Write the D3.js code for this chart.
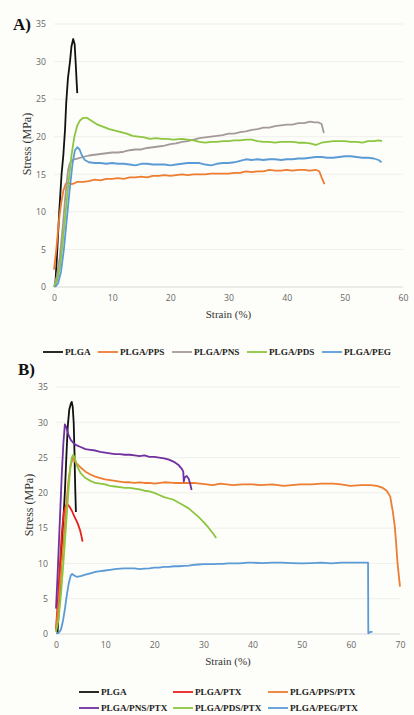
<!DOCTYPE html>
<html>
<head>
<meta charset="utf-8">
<script src="https://cdn.jsdelivr.net/npm/d3@7"></script>
<style>
  html, body { margin: 0; padding: 0; background: #fdfdf9; }
  svg { display: block; }
  .tick text { font-family: "Open Sans", sans-serif; font-size: 8.7px; fill: #666; }
  .serif { font-family: "Liberation Serif", "Times New Roman", serif; }
</style>
</head>
<body>
<div id="chart"></div>
<script>
// ---- panel A data : strain (%), stress (MPa) ----
const plgaA = [[0.2,0],[0.5,4],[0.9,10],[1.3,15],[1.6,17.5],[1.9,21],[2.1,24.5],[2.4,27.8],[2.75,30],[3.0,32],[3.3,33],[3.55,32.3],[3.75,29.5],[3.9,27.2],[4.0,25.8]];
const ppsA = [[0,2.3],[0.4,5],[0.8,8.5],[1.2,11],[1.6,12.8],[2.0,13.7],[2.4,13.9],[3,13.7],[3.5,13.8],[4,14.0],[5,14.0],[6,14.1],[7,14.3],[8,14.2],[9,14.4],[10,14.4],[11,14.5],[12,14.4],[13,14.6],[14,14.6],[15,14.7],[16,14.6],[17,14.8],[18,14.8],[19,14.9],[20,14.8],[21,14.9],[22,15.0],[23,14.9],[24,15.0],[25,15.0],[26,15.0],[27,15.1],[28,15.1],[29,15.1],[30,15.1],[31,15.2],[32,15.2],[33,15.4],[34,15.3],[35,15.4],[36,15.4],[37,15.6],[38,15.5],[39,15.5],[40,15.6],[41,15.5],[42,15.6],[43,15.6],[44,15.5],[45,15.6],[45.6,15.4],[46,14.6],[46.5,13.7]];
const pnsA = [[0,0],[0.5,1.5],[1,4],[1.5,8],[2,12.5],[2.4,15.5],[2.7,16.4],[3,16.8],[3.5,17.0],[4,17.1],[5,17.3],[6,17.5],[7,17.6],[8,17.7],[9,17.8],[10,17.9],[11,17.9],[12,18.0],[13,18.2],[14,18.3],[15,18.3],[16,18.5],[17,18.6],[18,18.7],[19,18.8],[20,19.0],[21,19.1],[22,19.3],[23,19.4],[24,19.6],[25,19.8],[26,19.9],[27,20.0],[28,20.1],[29,20.2],[30,20.4],[31,20.4],[32,20.6],[33,20.7],[34,20.9],[35,21.0],[36,21.2],[37,21.2],[38,21.4],[39,21.5],[40,21.6],[41,21.6],[42,21.8],[43,21.8],[44,22.0],[44.8,21.9],[45.5,21.9],[46,21.7],[46.4,20.5]];
const pdsA = [[0,0],[0.5,0.8],[1,2.5],[1.5,6],[2,10],[2.5,14],[3,17.5],[3.5,20],[4,21.5],[4.5,22.2],[5,22.5],[5.7,22.5],[6.5,22.1],[7.5,21.6],[8.5,21.3],[9.5,21.0],[10.5,20.8],[11.5,20.6],[12.5,20.4],[13.5,20.1],[14.5,20.0],[15.5,19.9],[16.5,19.7],[17.5,19.8],[18.5,19.7],[19.5,19.7],[20.5,19.6],[22,19.7],[23,19.6],[24,19.5],[25,19.3],[26,19.2],[27,19.3],[28,19.3],[29,19.4],[30,19.4],[31,19.5],[32,19.5],[33,19.6],[34,19.6],[35,19.4],[36,19.3],[37,19.3],[38,19.2],[39,19.3],[40,19.3],[41,19.3],[42,19.2],[43,19.2],[44,19.1],[45,18.9],[46,19.2],[47,19.3],[48,19.4],[49,19.4],[50,19.4],[51,19.3],[52,19.3],[53,19.2],[54,19.4],[55,19.4],[55.8,19.5],[56.4,19.4]];
const pegA = [[0.2,0],[0.7,0.5],[1.2,2],[1.7,5],[2.2,9],[2.7,13],[3.2,16.5],[3.6,18.2],[4.0,18.6],[4.4,18.3],[4.8,17.5],[5.3,16.9],[6,16.6],[7,16.5],[8,16.5],[9,16.4],[10,16.5],[11,16.4],[12,16.4],[13,16.3],[14,16.2],[15,16.4],[16,16.4],[17,16.3],[18,16.3],[19,16.3],[20,16.2],[21,16.3],[22,16.4],[23,16.5],[24,16.5],[25,16.5],[26,16.3],[27,16.2],[28,16.4],[29,16.5],[30,16.5],[31,16.6],[32,16.8],[33,17.0],[34,16.9],[35,17.0],[36,16.9],[37,17.0],[38,17.0],[39,16.9],[40,17.0],[41,17.0],[42,17.1],[43,17.1],[44,17.2],[45,17.3],[46,17.3],[47,17.2],[48,17.2],[49,17.3],[50,17.4],[51,17.4],[52,17.3],[53,17.2],[54,17.2],[55,17.1],[55.8,16.9],[56.3,16.6]];

// ---- panel B data ----
const plgaB = [[0.3,0],[0.7,5],[1.0,10],[1.4,15],[1.8,20],[2.1,25],[2.4,29.5],[2.7,31.8],[3.0,32.6],[3.2,32.9],[3.4,32.2],[3.6,30],[3.75,26],[3.9,21],[4.05,17.3]];
const ptxB = [[0,0.7],[0.4,5],[0.8,10],[1.2,14.5],[1.6,17.3],[2.0,18.2],[2.3,18.4],[2.7,18.1],[3.2,17.5],[3.7,16.7],[4.2,16.0],[4.5,15.5],[4.9,14.7],[5.2,13.8],[5.4,13.1]];
const ppsB = [[0,0.5],[0.5,4],[1,8.5],[1.5,13],[2,17.5],[2.5,21.5],[3,24],[3.5,25.0],[4,24.3],[5,23.6],[6,23.0],[7,22.6],[8,22.3],[9,22.1],[10,21.9],[11,21.8],[12,21.7],[13,21.6],[14,21.5],[15,21.5],[16,21.4],[17,21.5],[18,21.4],[19,21.4],[20,21.3],[22,21.5],[24,21.4],[26,21.4],[28,21.4],[29.3,21.3],[32,21.1],[33.4,21.3],[36,21.1],[38,21.2],[40,21.2],[41.6,21.1],[44,21.2],[46.3,21.0],[48,21.1],[49.7,21.2],[52,21.2],[54,21.3],[56.4,21.3],[58,21.2],[59.9,21.0],[62,21.1],[64,21.1],[65.3,21.0],[66.5,20.7],[67.3,20.3],[68.0,19.5],[68.5,17.5],[68.9,15.5],[69.2,13],[69.5,10],[70,6.7]];
const pnsB = [[0,3.6],[0.3,8],[0.6,13],[0.9,18],[1.2,23],[1.5,27],[1.8,29.7],[2.1,29.3],[2.5,28.3],[3,27.5],[3.5,27.1],[4,26.8],[5,26.5],[6,26.2],[7,26.1],[8,26.0],[9,25.8],[10,25.7],[11,25.6],[12,25.5],[13,25.5],[14,25.4],[15,25.4],[16,25.3],[17,25.2],[18,25.3],[19,25.1],[20,25.1],[21,25.0],[22,24.9],[23,24.7],[24,24.4],[25,23.9],[25.6,23.4],[25.9,23.0],[26.0,21.6],[26.2,22.2],[26.6,22.4],[27.0,22.0],[27.3,21.3],[27.6,20.4]];
const pdsB = [[0,0.3],[0.5,2],[1,5.5],[1.5,10],[2,15],[2.5,20],[2.9,23.5],[3.2,25],[3.5,25.4],[3.8,25.0],[4.3,23.8],[5,22.8],[6,22.1],[7,21.7],[8,21.4],[9,21.3],[10,21.2],[11,21.0],[12,20.9],[13,20.8],[14,20.7],[15,20.7],[16,20.6],[17,20.5],[18,20.3],[19,20.2],[20,20.0],[21,19.7],[22,19.4],[23,19.2],[24,19.0],[25,18.6],[26,18.2],[27,17.8],[28,17.2],[29,16.6],[30,15.9],[31,15.1],[32,14.2],[32.6,13.6]];
const pegB = [[0.2,0.1],[0.6,0.2],[1.0,0.6],[1.4,1.8],[1.8,3.5],[2.2,5.5],[2.6,7.2],[3.0,8.3],[3.3,8.5],[3.7,8.3],[4.2,8.1],[5,8.2],[6,8.4],[7,8.6],[8,8.8],[9,8.9],[10,9.0],[11,9.1],[12,9.2],[13,9.25],[14,9.3],[15,9.3],[16,9.3],[17,9.2],[18,9.25],[19,9.3],[20,9.4],[21,9.4],[22,9.5],[23,9.5],[24,9.6],[25,9.6],[26,9.65],[27,9.7],[28,9.8],[29,9.85],[30,9.9],[31,9.9],[32,9.9],[33,9.95],[34,9.95],[35,10.0],[36,10.0],[37,10.0],[38,10.05],[39,10.1],[40,10.1],[42,10.05],[44,10.1],[46,10.1],[48,10.05],[50,10.0],[52,10.05],[54,10.1],[56,10.0],[58,10.1],[60,10.1],[62,10.1],[63.5,10.1],[63.55,0.1],[64,0.3],[64.4,0.3]];

const namesA = ["PLGA", "PLGA/PPS", "PLGA/PNS", "PLGA/PDS", "PLGA/PEG"];
const namesB = ["PLGA", "PLGA/PTX", "PLGA/PPS/PTX", "PLGA/PNS/PTX", "PLGA/PDS/PTX", "PLGA/PEG/PTX"];
const stressTicks = [0, 5, 10, 15, 20, 25, 30, 35];
const strainTicksA = [0, 10, 20, 30, 40, 50, 60];
const strainTicksB = [0, 10, 20, 30, 40, 50, 60, 70];

const black = "#111", orange = "#ed7d31", gray = "#a59a9a", green = "#8cc63f", blue = "#5b9bd5", red = "#e8201e", purple = "#7030a0";

const svg = d3.select("#chart").append("svg")
  .attr("width", 414)
  .attr("height", 715);

function panel(opt) {
  const x = d3.scaleLinear().domain(opt.xDomain).range([opt.left, opt.right]);
  const y = d3.scaleLinear().domain([0, 35]).range([opt.bottom, opt.top]);
  const g = svg.append("g");

  // horizontal gridlines
  g.append("g").selectAll("line")
    .data(stressTicks)
    .enter().append("line")
    .attr("x1", opt.left).attr("x2", opt.right)
    .attr("y1", d => y(d)).attr("y2", d => y(d))
    .attr("stroke", d => d == 0 ? "#d9d9d9" : "#efefeb")
    .attr("stroke-width", 1);

  const yAxis = g.append("g")
    .attr("transform", `translate(${opt.left - 4},0)`)
    .call(d3.axisLeft(y).tickValues(stressTicks).tickSize(0).tickPadding(4));
  yAxis.select(".domain").remove();

  const xAxis = g.append("g")
    .attr("transform", `translate(0,${opt.bottom + 4})`)
    .call(d3.axisBottom(x).tickValues(opt.xTicks).tickSize(0).tickPadding(4));
  xAxis.select(".domain").remove();

  const line = d3.line().x(d => x(d[0])).y(d => y(d[1]));
  g.append("g").selectAll("path")
    .data(opt.series)
    .enter().append("path")
    .attr("d", d => line(d.values))
    .attr("fill", "none")
    .attr("stroke", d => d.color)
    .attr("stroke-width", 1.8)
    .attr("stroke-linejoin", "round");

  g.append("text").attr("class", "serif")
    .attr("x", opt.labelX).attr("y", opt.labelY)
    .attr("font-size", 17).attr("font-weight", "bold").attr("fill", "#111")
    .text(opt.label);

  g.append("text").attr("class", "serif")
    .attr("transform", `translate(${opt.yLabelX},${opt.yLabelY}) rotate(-90)`)
    .attr("text-anchor", "middle").attr("font-size", 12).attr("fill", "#333")
    .text("Stress (MPa)");

  g.append("text").attr("class", "serif")
    .attr("x", (opt.left + opt.right) / 2).attr("y", opt.bottom + 31)
    .attr("text-anchor", "middle").attr("font-size", 11).attr("fill", "#333")
    .text("Strain (%)");

  // legend
  const leg = g.append("g").selectAll("g")
    .data(opt.legend)
    .enter().append("g")
    .attr("transform", d => `translate(${d.x},${d.y})`);
  leg.append("line")
    .attr("x1", 0).attr("x2", 20).attr("y1", 0).attr("y2", 0)
    .attr("stroke", d => d.color).attr("stroke-width", 1.8);
  leg.append("text").attr("class", "serif")
    .attr("x", 22).attr("y", 3.2)
    .attr("font-size", 9.2).attr("font-weight", "bold").attr("fill", "#222")
    .text(d => d.name);
}

const colorsA = [black, orange, gray, green, blue];
const legXA = [43, 98, 172, 247, 322];
panel({
  xDomain: [0, 60], xTicks: strainTicksA,
  left: 54, right: 403, top: 24, bottom: 287,
  label: "A)", labelX: 13, labelY: 30,
  yLabelX: 31, yLabelY: 144,
  series: [plgaA, ppsA, pnsA, pdsA, pegA].map((v, i) => ({values: v, color: colorsA[i]})),
  legend: namesA.map((n, i) => ({name: n, color: colorsA[i], x: legXA[i], y: 352}))
});

const colorsB = [black, red, orange, purple, green, blue];
const legXB = [79, 173, 268];
panel({
  xDomain: [0, 70], xTicks: strainTicksB,
  left: 56, right: 400, top: 387, bottom: 634,
  label: "B)", labelX: 18, labelY: 375,
  yLabelX: 33, yLabelY: 505,
  series: [plgaB, ptxB, ppsB, pnsB, pdsB, pegB].map((v, i) => ({values: v, color: colorsB[i]})),
  legend: namesB.map((n, i) => ({name: n, color: colorsB[i], x: legXB[i % 3], y: i < 3 ? 692 : 708}))
});
</script>
</body>
</html>
